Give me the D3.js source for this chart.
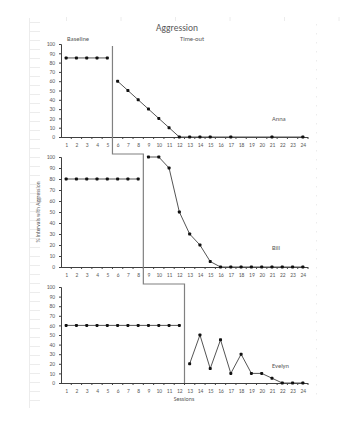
<!DOCTYPE html>
<html>
<head>
<meta charset="utf-8">
<script src="https://cdn.jsdelivr.net/npm/d3@7"></script>
<style>
body { margin: 0; background: #fff; }
svg text { font-family: Calibri, Carlito, "Liberation Sans", Arial, sans-serif; fill: #595959; }
</style>
</head>
<body>
<div id="chart"></div>
<script>
// data
var sessions = d3.range(1, 25);
var names = ["Anna", "Bill", "Evelyn"];
var phaseChange = [5.5, 8.5, 12.5];   // baseline ends after these sessions

var annaBase = [[1, 85], [2, 85], [3, 85], [4, 85], [5, 85]];
var annaTreat = [[6, 60], [7, 50], [8, 40], [9, 30], [10, 20], [11, 10], [12, 0],
	[13, 0], [14, 0], [15, 0], [17, 0], [21, 0], [24, 0]];

var billBase = [[1, 80], [2, 80], [3, 80], [4, 80], [5, 80], [6, 80], [7, 80], [8, 80]];
var billTreat = [[9, 100], [10, 100], [11, 90], [12, 50], [13, 30], [14, 20], [15, 5],
	[16, 0], [17, 0], [18, 0], [19, 0], [20, 0], [21, 0], [22, 0], [23, 0], [24, 0]];

var evelynBase = [[1, 60], [2, 60], [3, 60], [4, 60], [5, 60], [6, 60], [7, 60], [8, 60],
	[9, 60], [10, 60], [11, 60], [12, 60]];
var evelynTreat = [[13, 20], [14, 50], [15, 15], [16, 45], [17, 10], [18, 30], [19, 10],
	[20, 10], [21, 5], [22, 0], [23, 0], [24, 0]];

var yTicks = d3.range(0, 101, 10);

var svg_w = 340;
var svg_h = 424;

var svg = d3.select("#chart")
	.append("svg")
	.attr("width", svg_w)
	.attr("height", svg_h);

// faint page marks (word doc background)
var page = svg.append("g").attr("stroke", "#ececec").attr("stroke-width", 1);
for (var i = 0; i < 43; i++) {
	page.append("line")
		.attr("x1", 29).attr("x2", 40)
		.attr("y1", 22 + i * 9 + .5).attr("y2", 22 + i * 9 + .5);
}
page.append("line").attr("x1", 29.5).attr("x2", 29.5).attr("y1", 18).attr("y2", 408);
for (var i = 0; i < 42; i++) {
	page.append("line")
		.attr("x1", 316.5).attr("x2", 316.5)
		.attr("y1", 24 + i * 9).attr("y2", 25.5 + i * 9);
}
for (var i = 0; i < 6; i++) {
	page.append("line")
		.attr("x1", 66.5 + i * 54.5).attr("x2", 66.5 + i * 54.5)
		.attr("y1", 17).attr("y2", 21);
}

// scales
var x = d3.scaleLinear()
	.domain([0.5, 24.5])
	.range([61, 308]);

var panels = [
	{ name: names[0], base: annaBase, treat: annaTreat, top: 44, bottom: 137, labelY: 121 },
	{ name: names[1], base: billBase, treat: billTreat, top: 157, bottom: 267, labelY: 250 },
	{ name: names[2], base: evelynBase, treat: evelynTreat, top: 287, bottom: 383, labelY: 368 }
];

var line = d3.line();

for (var q = 0; q < panels.length; q++) {
	var p = panels[q];
	var y = d3.scaleLinear().domain([0, 100]).range([p.bottom, p.top]);
	var g = svg.append("g");

	// y axis
	var yAxis = d3.axisLeft(y).tickValues(yTicks).tickSize(2).tickPadding(4);
	var ya = g.append("g")
		.attr("transform", "translate(" + x.range()[0] + ",0)")
		.call(yAxis);
	ya.select(".domain").attr("stroke", "#404040").attr("stroke-width", 1);
	ya.selectAll(".tick line").attr("stroke", "#404040");
	ya.selectAll("text").style("font-size", "5.5px").attr("fill", "#666");

	// x axis, labels centred, ticks at boundaries
	var xAxis = d3.axisBottom(x).tickValues(sessions).tickSize(0).tickPadding(6)
		.tickFormat(d3.format("d"));
	var xa = g.append("g")
		.attr("transform", "translate(0," + p.bottom + ")")
		.call(xAxis);
	xa.select(".domain").attr("stroke", "#404040").attr("stroke-width", 1).attr("d",
		"M" + x.range()[0] + ",0.5H" + x.range()[1]);
	xa.selectAll("text").style("font-size", "5.5px").attr("fill", "#666");
	xa.selectAll(".bound")
		.data(d3.range(1.5, 25, 1))
		.enter()
		.append("line")
		.attr("class", "bound")
		.attr("x1", function(d) { return x(d); })
		.attr("x2", function(d) { return x(d); })
		.attr("y1", 0)
		.attr("y2", 2)
		.attr("stroke", "#404040");

	// data lines
	var pts = [p.base, p.treat];
	for (var k = 0; k < 2; k++) {
		g.append("path")
			.datum(pts[k])
			.attr("fill", "none")
			.attr("stroke", "#555")
			.attr("stroke-width", 1)
			.attr("d", line.x(function(d) { return x(d[0]); }).y(function(d) { return y(d[1]); }));
		g.selectAll(".m" + k)
			.data(pts[k])
			.enter()
			.append("rect")
			.attr("class", "m" + k)
			.attr("x", function(d) { return x(d[0]) - 1.5; })
			.attr("y", function(d) { return y(d[1]) - 1.5; })
			.attr("width", 3)
			.attr("height", 3)
			.attr("rx", 0.8)
			.attr("fill", "#111");
	}

	g.append("text")
		.attr("x", 272)
		.attr("y", p.labelY)
		.style("font-size", "6.5px")
		.text(p.name);

	p.y = y;
}

// phase change line, stepped across panels
var pc = [
	[x(phaseChange[0]), panels[0].top + 2],
	[x(phaseChange[0]), 154],
	[x(phaseChange[1]), 154],
	[x(phaseChange[1]), 284],
	[x(phaseChange[2]), 284],
	[x(phaseChange[2]), panels[2].bottom]
];
svg.append("path")
	.datum(pc)
	.attr("fill", "none")
	.attr("stroke", "#808080")
	.attr("stroke-width", 1.2)
	.attr("d", d3.line());

// titles
svg.append("text")
	.attr("x", 177)
	.attr("y", 31)
	.attr("text-anchor", "middle")
	.style("font-size", "9.5px")
	.text("Aggression");

svg.append("text")
	.attr("x", 67)
	.attr("y", 41)
	.style("font-size", "6.5px")
	.text("Baseline");

svg.append("text")
	.attr("x", 180)
	.attr("y", 41)
	.style("font-size", "6.5px")
	.text("Time-out");

svg.append("text")
	.attr("transform", "translate(40,212) rotate(-90)")
	.attr("text-anchor", "middle")
	.style("font-size", "5.5px")
	.text("% Intervals with Aggression");

svg.append("text")
	.attr("x", 184)
	.attr("y", 401)
	.attr("text-anchor", "middle")
	.style("font-size", "6px")
	.text("Sessions");
</script>
</body>
</html>
